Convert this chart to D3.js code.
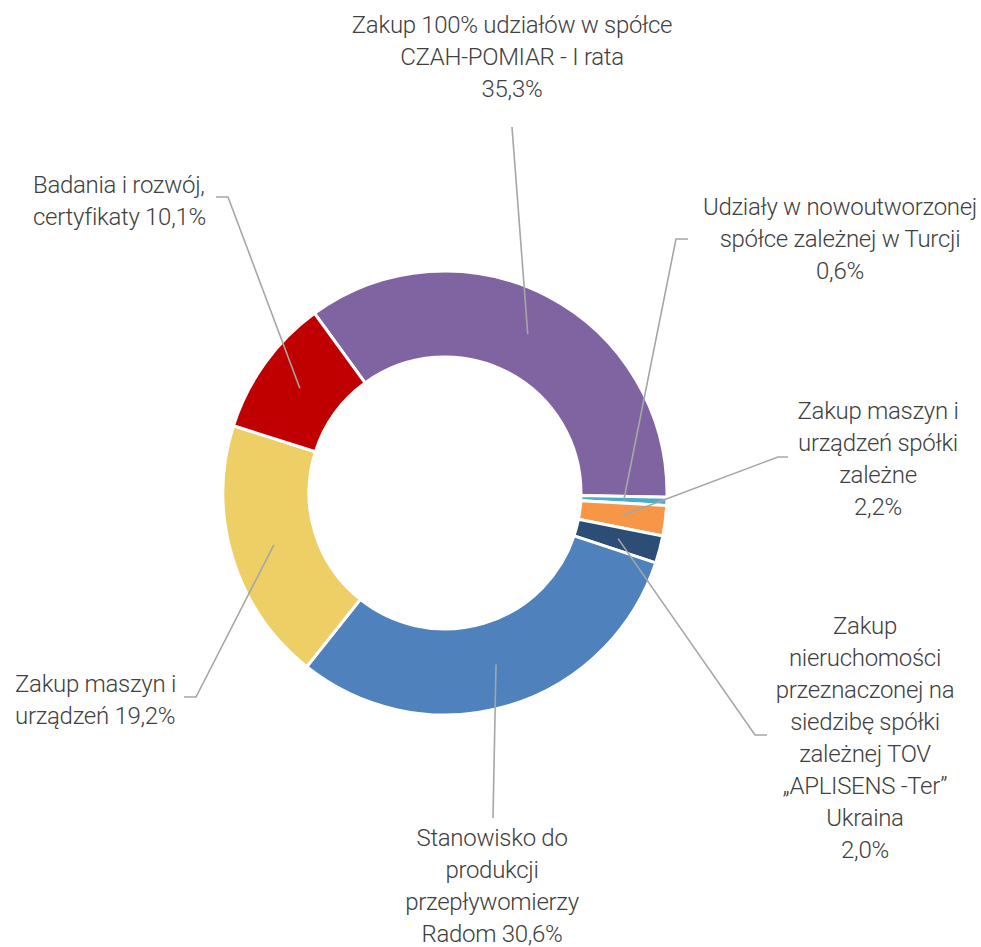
<!DOCTYPE html>
<html>
<head>
<meta charset="utf-8">
<script src="https://cdn.jsdelivr.net/npm/d3@7"></script>
<style>
  body { margin: 0; background: #fff; }
  .lbl { font-family: Roboto, "Liberation Sans Narrow", sans-serif; font-weight: 300; font-size: 24px; letter-spacing: -0.3px; fill: #404040; }
</style>
</head>
<body>
<div class="chart"></div>
<script>
// data
var categories = [
  "Zakup 100% udziałów w spółce CZAH-POMIAR - I rata",
  "Udziały w nowoutworzonej spółce zależnej w Turcji",
  "Zakup maszyn i urządzeń spółki zależne",
  "Zakup nieruchomości przeznaczonej na siedzibę spółki zależnej TOV „APLISENS -Ter” Ukraina",
  "Stanowisko do produkcji przepływomierzy Radom",
  "Zakup maszyn i urządzeń",
  "Badania i rozwój, certyfikaty"
];
var values = [35.3, 0.6, 2.2, 2.0, 30.6, 19.2, 10.1];
var colors = ["#8064A2", "#4BACC6", "#F79646", "#2C4D75", "#4F81BD", "#EDCF66", "#C00000"];

// label text lines (as wrapped in the picture)
var labelLines = [
  ["Zakup 100% udziałów w spółce", "CZAH-POMIAR - I rata", "35,3%"],
  ["Udziały w nowoutworzonej", "spółce zależnej w Turcji", "0,6%"],
  ["Zakup maszyn i", "urządzeń spółki", "zależne", "2,2%"],
  ["Zakup", "nieruchomości", "przeznaczonej na", "siedzibę spółki", "zależnej TOV", "„APLISENS -Ter”", "Ukraina", "2,0%"],
  ["Stanowisko do", "produkcji", "przepływomierzy", "Radom 30,6%"],
  ["Zakup maszyn i", "urządzeń 19,2%"],
  ["Badania i rozwój,", "certyfikaty 10,1%"]
];

// label layout: x,y of first line baseline, anchor, leader elbow points
var labelPos = [
  { x: 512, y: 33,  anchor: "middle", leader: [[512, 127]] },
  { x: 840, y: 215, anchor: "middle", leader: [[688, 239], [676, 239]] },
  { x: 878, y: 419, anchor: "middle", leader: [[788, 457], [778, 457]] },
  { x: 865, y: 634, anchor: "middle", leader: [[767, 735], [755, 735]] },
  { x: 492, y: 846, anchor: "middle", leader: [[493, 818]] },
  { x: 15,  y: 692, anchor: "start",  leader: [[184, 697], [196, 697]] },
  { x: 33,  y: 193, anchor: "start",  leader: [[216, 197], [228, 197]] }
];

var svgWidth = 981, svgHeight = 947;
var cx = 445, cy = 493;
var outerR = 222, innerR = 136;
var lineH = 32;

var svg = d3.select(".chart")
  .append("svg")
  .attr("width", svgWidth)
  .attr("height", svgHeight);

var start = -36 * Math.PI / 180;
var pie = d3.pie()
  .sort(null)
  .value(function(d) { return d; })
  .startAngle(start)
  .endAngle(start + 2 * Math.PI);

var arc = d3.arc().innerRadius(innerR).outerRadius(outerR);

var arcs = pie(values);

var g = svg.append("g")
  .attr("transform", "translate(" + cx + "," + cy + ")");

g.selectAll("path.slice")
  .data(arcs)
  .enter()
  .append("path")
  .attr("class", "slice")
  .attr("d", arc)
  .attr("fill", function(d, i) { return colors[i]; })
  .attr("stroke", "#fff")
  .attr("stroke-width", 3);

// leader lines
var line = d3.line();
svg.selectAll("path.leader")
  .data(arcs)
  .enter()
  .append("path")
  .attr("class", "leader")
  .attr("d", function(d, i) {
    var c = arc.centroid(d);
    var pts = labelPos[i].leader.concat([[c[0] + cx, c[1] + cy]]);
    return line(pts);
  })
  .attr("fill", "none")
  .attr("stroke", "#A6A6A6")
  .attr("stroke-width", 1.6);

// labels
var labels = svg.selectAll("text.lbl")
  .data(labelLines)
  .enter()
  .append("text")
  .attr("class", "lbl")
  .attr("x", function(d, i) { return labelPos[i].x; })
  .attr("y", function(d, i) { return labelPos[i].y; })
  .attr("text-anchor", function(d, i) { return labelPos[i].anchor; });

labels.each(function(lines, i) {
  var t = d3.select(this);
  lines.forEach(function(s, k) {
    t.append("tspan")
      .attr("x", labelPos[i].x)
      .attr("y", labelPos[i].y + k * lineH)
      .text(s);
  });
});
</script>
</body>
</html>
